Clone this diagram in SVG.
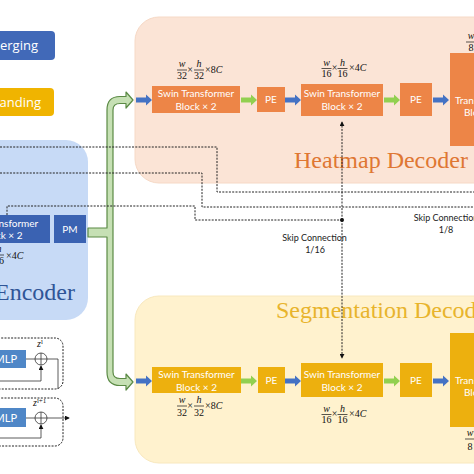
<svg xmlns="http://www.w3.org/2000/svg" xmlns:xlink="http://www.w3.org/1999/xlink" width="474" height="474" viewBox="0 0 474 474">
<style>
.blk{font-family:Lato,"Open Sans",sans-serif;font-size:10px;fill:#fff;text-anchor:middle}
.leg{font-family:"Open Sans",Lato,sans-serif;font-size:13px;fill:#fff;text-anchor:end}
.m{font-family:"Liberation Serif",serif;font-size:10px;fill:#111;text-anchor:middle}
.ms{font-family:"Liberation Serif",serif;font-size:10px;fill:#111}
.i{font-style:italic}
.fl{stroke:#111;stroke-width:0.7}
.dash{fill:none;stroke:#222;stroke-width:1;stroke-dasharray:2 1.3}
.skip{font-family:Lato,"Open Sans",sans-serif;font-size:9px;fill:#222;text-anchor:middle}
.hb{fill:#ED8547}
.sb{fill:#EDB00E}
.eb{fill:#3A62B2}
.title{font-family:"Liberation Serif",serif;font-size:24px}
</style>
<defs>
<path id="arr" d="M0,-2.6 L10,-2.6 L10,-5.6 L16,0 L10,5.6 L10,2.6 L0,2.6 Z"/>
<marker id="tip" viewBox="0 0 6 6" refX="5" refY="3" markerWidth="5" markerHeight="5" orient="auto" markerUnits="userSpaceOnUse">
<path d="M0,0 L6,3 L0,6 Z" fill="#111"/>
</marker>
</defs>
<rect width="474" height="474" fill="#fff"/>

<g id="legend">
<rect x="-20" y="31" width="75" height="29" rx="4" fill="#4169B8"/>
<text class="leg" x="38" y="50">Patch Merging</text>
<rect x="-20" y="88" width="74" height="28" rx="4" fill="#F0B400"/>
<text class="leg" x="41" y="107">Patch Expanding</text>
</g>

<g id="heatmap-decoder">
<rect x="135" y="17" width="380" height="166" rx="24" fill="#FBE4D6" stroke="#F6D9C6" stroke-width="1"/>
<text class="title" x="294" y="168" fill="#DF7733">Heatmap Decoder</text>
<rect class="hb" x="152" y="86" width="88" height="27"/>
<text class="blk" x="196" y="96.5">Swin Transformer</text>
<text class="blk" x="196" y="110">Block × 2</text>
<rect class="hb" x="257" y="87" width="28" height="25"/>
<text class="blk" x="271" y="103">PE</text>
<rect class="hb" x="301" y="84" width="82" height="32"/>
<text class="blk" x="342" y="96.5">Swin Transformer</text>
<text class="blk" x="342" y="110">Block × 2</text>
<rect class="hb" x="400" y="83" width="32" height="33"/>
<text class="blk" x="416" y="103">PE</text>
<rect class="hb" x="450" y="53" width="60" height="93"/>
<text class="blk" x="455" y="103.5" style="text-anchor:start">Transformer</text>
<text class="blk" x="464" y="115.5" style="text-anchor:start">Block × 2</text>
<use href="#arr" x="136" y="100" fill="#4472C4"/>
<use href="#arr" x="241" y="100" fill="#92D050"/>
<use href="#arr" x="285" y="100" fill="#4472C4"/>
<use href="#arr" x="384" y="100" fill="#92D050"/>
<use href="#arr" x="433" y="100" fill="#4472C4"/>
<text class="m i" x="182" y="67">w</text><line class="fl" x1="177" y1="70" x2="187" y2="70"/><text class="m" x="182" y="79">32</text>
<text class="m" x="190" y="73">×</text>
<text class="m i" x="199" y="67">h</text><line class="fl" x1="194" y1="70" x2="204" y2="70"/><text class="m" x="199" y="79">32</text>
<text class="ms" x="205" y="73">×8<tspan class="i">C</tspan></text>
<text class="m i" x="326.5" y="65.5">w</text><line class="fl" x1="321.5" y1="68.5" x2="331.5" y2="68.5"/><text class="m" x="326.5" y="77">16</text>
<text class="m" x="334.5" y="71">×</text>
<text class="m i" x="342.5" y="65.5">h</text><line class="fl" x1="337.5" y1="68.5" x2="347.5" y2="68.5"/><text class="m" x="342.5" y="77">16</text>
<text class="ms" x="349" y="71">×4<tspan class="i">C</tspan></text>
<text class="m i" x="471" y="39">w</text><line class="fl" x1="466" y1="42" x2="476" y2="42"/><text class="m" x="471" y="51">8</text>
</g>

<g id="segmentation-decoder">
<rect x="135" y="296" width="380" height="167" rx="24" fill="#FFF2CE" stroke="#F8E8BE" stroke-width="1"/>
<text class="title" x="276" y="318" fill="#E8B42C">Segmentation Decoder</text>
<rect class="sb" x="152" y="367" width="89" height="26"/>
<text class="blk" x="196.5" y="377.5">Swin Transformer</text>
<text class="blk" x="196.5" y="390.5">Block × 2</text>
<rect class="sb" x="258" y="367" width="27" height="26"/>
<text class="blk" x="271.5" y="384">PE</text>
<rect class="sb" x="301" y="363" width="82" height="34"/>
<text class="blk" x="342" y="377.5">Swin Transformer</text>
<text class="blk" x="342" y="390.5">Block × 2</text>
<rect class="sb" x="400" y="363" width="32" height="34"/>
<text class="blk" x="416" y="384">PE</text>
<rect class="sb" x="450" y="333" width="60" height="94"/>
<text class="blk" x="455" y="383.5" style="text-anchor:start">Transformer</text>
<text class="blk" x="464" y="395.5" style="text-anchor:start">Block × 2</text>
<use href="#arr" x="136" y="381" fill="#4472C4"/>
<use href="#arr" x="241" y="381" fill="#92D050"/>
<use href="#arr" x="285" y="381" fill="#4472C4"/>
<use href="#arr" x="384" y="381" fill="#92D050"/>
<use href="#arr" x="433" y="381" fill="#4472C4"/>
<text class="m i" x="182" y="403">w</text><line class="fl" x1="177" y1="406" x2="187" y2="406"/><text class="m" x="182" y="416">32</text>
<text class="m" x="190" y="409">×</text>
<text class="m i" x="199" y="403">h</text><line class="fl" x1="194" y1="406" x2="204" y2="406"/><text class="m" x="199" y="416">32</text>
<text class="ms" x="205" y="409">×8<tspan class="i">C</tspan></text>
<text class="m i" x="326.5" y="411.5">w</text><line class="fl" x1="321.5" y1="414.5" x2="331.5" y2="414.5"/><text class="m" x="326.5" y="423">16</text>
<text class="m" x="334.5" y="417">×</text>
<text class="m i" x="342.5" y="411.5">h</text><line class="fl" x1="337.5" y1="414.5" x2="347.5" y2="414.5"/><text class="m" x="342.5" y="423">16</text>
<text class="ms" x="349" y="417">×4<tspan class="i">C</tspan></text>
<text class="m i" x="470" y="436">w</text><line class="fl" x1="465" y1="439" x2="475" y2="439"/><text class="m" x="470" y="450">8</text>
</g>

<g id="encoder">
<rect x="-40" y="140" width="128" height="180" rx="22" fill="#C7DAF6"/>
<rect class="eb" x="-50" y="215" width="100" height="28"/>
<text class="blk" x="0" y="226.5">Swin Transformer</text>
<text class="blk" x="2" y="238.5">Block × 2</text>
<rect class="eb" x="54" y="215" width="32" height="28"/>
<text class="blk" x="70" y="232.5">PM</text>
<text class="m i" x="-1" y="252">h</text><line class="fl" x1="-6" y1="255" x2="4" y2="255"/><text class="m" x="-1" y="264">16</text>
<text class="ms" x="6" y="259">×4<tspan class="i">C</tspan></text>
<text class="title" x="-5" y="300" fill="#2F5597">Encoder</text>
</g>

<g id="blocks-legend">
<rect x="-20" y="338" width="83" height="51" rx="8" class="dash"/>
<rect x="-10" y="350" width="36" height="18" fill="#4F87C7"/>
<text class="blk" x="17" y="363" style="text-anchor:end;font-size:11px">MLP</text>
<circle cx="41" cy="359" r="6" fill="none" stroke="#333" stroke-width="0.8"/>
<path d="M35,359 H47 M41,353 V365" stroke="#333" stroke-width="0.8"/>
<text class="ms i" x="37" y="347">z<tspan font-size="7" dy="-3" font-style="normal">l</tspan></text>
<path d="M26,359 H35 M47,359 H58 V389" fill="none" stroke="#333" stroke-width="0.8"/>
<path d="M-10,381 H41 V366" fill="none" stroke="#333" stroke-width="0.8" marker-end="url(#tip)"/>
<rect x="-20" y="398" width="83" height="48" rx="8" class="dash"/>
<rect x="-10" y="408" width="36" height="19" fill="#4F87C7"/>
<text class="blk" x="17" y="421.5" style="text-anchor:end;font-size:11px">MLP</text>
<circle cx="41" cy="418" r="6" fill="none" stroke="#333" stroke-width="0.8"/>
<path d="M35,418 H47 M41,412 V424" stroke="#333" stroke-width="0.8"/>
<text class="ms i" x="33" y="406">z<tspan font-size="7" dy="-3" font-style="normal">l+1</tspan></text>
<path d="M26,418 H35" fill="none" stroke="#333" stroke-width="0.8"/>
<path d="M47,418 H69" fill="none" stroke="#333" stroke-width="0.8" marker-end="url(#tip)"/>
<path d="M-10,438 H41 V425" fill="none" stroke="#333" stroke-width="0.8" marker-end="url(#tip)"/>
</g>

<g id="connectors">
<path d="M107,110 Q107,96.5 120,96.5 L126,96.5 L126,92 L133,100 L126,108 L126,103.5 L120,103.5 Q113,103.5 113,110 L113,372 Q113,378.5 120,378.5 L126,378.5 L126,374 L133,382 L126,390 L126,385.5 L120,385.5 Q107,385.5 107,372 L107,237 L88,237 L88,228 L107,228 Z" fill="#C6E0B4" stroke="#5B8A45" stroke-width="1.2" stroke-linejoin="round"/>
<path class="dash" d="M0,147 H217 V192 H474"/>
<path class="dash" d="M0,173 H202 V207 H474"/>
<path class="dash" d="M7,215 V206 H195 V220 H342"/>
<path class="dash" d="M342,220 V122" marker-end="url(#tip)"/>
<path class="dash" d="M342,220 V358" marker-end="url(#tip)"/>
<circle cx="342" cy="220" r="2" fill="#111"/>
<text class="skip" x="314.5" y="241">Skip Connection</text>
<text class="skip" x="315" y="253">1/16</text>
<text class="skip" x="446" y="221">Skip Connection</text>
<text class="skip" x="446" y="233">1/8</text>
</g>
</svg>
